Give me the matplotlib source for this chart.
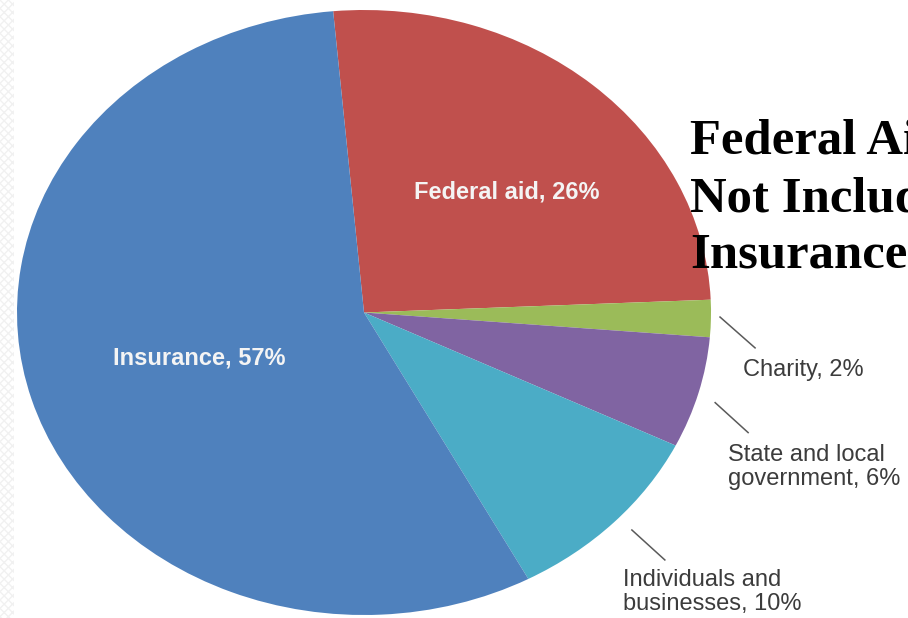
import matplotlib.pyplot as plt
from matplotlib.patches import Rectangle
from matplotlib.lines import Line2D

# data, in the order the wedges are drawn (clockwise from the top)
labels = ["Federal aid", "Charity", "State and local\ngovernment", "Individuals and\nbusinesses", "Insurance"]
shares = [26, 2, 6, 10, 57]
colors = ["#C0504D", "#9BBB59", "#8064A2", "#4BACC6", "#4F81BD"]
title_lines = ["Federal Aid Does", "Not Include", "Insurance"]

W, H = 908, 618
fig = plt.figure(figsize=(W / 100, H / 100), dpi=100)
fig.patch.set_facecolor("white")

# faint patterned strip on the left edge of the slide
fig.add_artist(Rectangle((0, 0), 14 / W, 1, transform=fig.transFigure,
                         facecolor="white", edgecolor="#f1f1f1", hatch="xxxx", lw=0))

# pie is stretched into an ellipse in the source, so the axes are not equal aspect
ax = fig.add_axes([17 / W, 3 / H, 694 / W, 605 / H])
wedges, _ = ax.pie(shares, colors=colors, startangle=95.1, counterclock=False,
                   radius=1, center=(0, 0), wedgeprops=dict(linewidth=0))
ax.set_aspect("auto")
ax.set_xlim(-1, 1)
ax.set_ylim(-1, 1)
ax.axis("off")

pct = [f"{s}%" for s in shares]

# labels inside the big wedges
inner_pos = {0: (0.412, 0.398), 4: (-0.476, -0.150)}
for i, (x, y) in inner_pos.items():
    ax.text(x, y, f"{labels[i]}, {pct[i]}", color="#f4f4f4", fontsize=17,
            fontweight="bold", family="Liberation Sans", ha="center", va="center")

# outside labels with leader lines
outer = {
    1: dict(line=((1.026, -0.015), (1.127, -0.117)), text=(1.092, -0.190)),
    2: dict(line=((1.012, -0.298), (1.107, -0.397)), text=(1.049, -0.511)),
    3: dict(line=((0.772, -0.719), (0.867, -0.818)), text=(0.746, -0.924)),
}
for i, o in outer.items():
    (x0, y0), (x1, y1) = o["line"]
    ax.add_line(Line2D([x0, x1], [y0, y1], color="#5a5a5a", lw=1.1, clip_on=False))
    tx, ty = o["text"]
    ax.text(tx, ty, f"{labels[i]}, {pct[i]}", color="#3c3c3c", fontsize=17,
            family="Liberation Sans", ha="left", va="center", clip_on=False,
            linespacing=1.15)

# slide title, cut off by the right edge as in the source
for line, base in zip(title_lines, [153, 211, 268]):
    fig.text(690 / W, 1 - base / H, line, fontsize=36.5, fontweight="bold",
             family="Liberation Serif", color="black", ha="left", va="baseline")

fig.savefig("out.png", dpi=100)
